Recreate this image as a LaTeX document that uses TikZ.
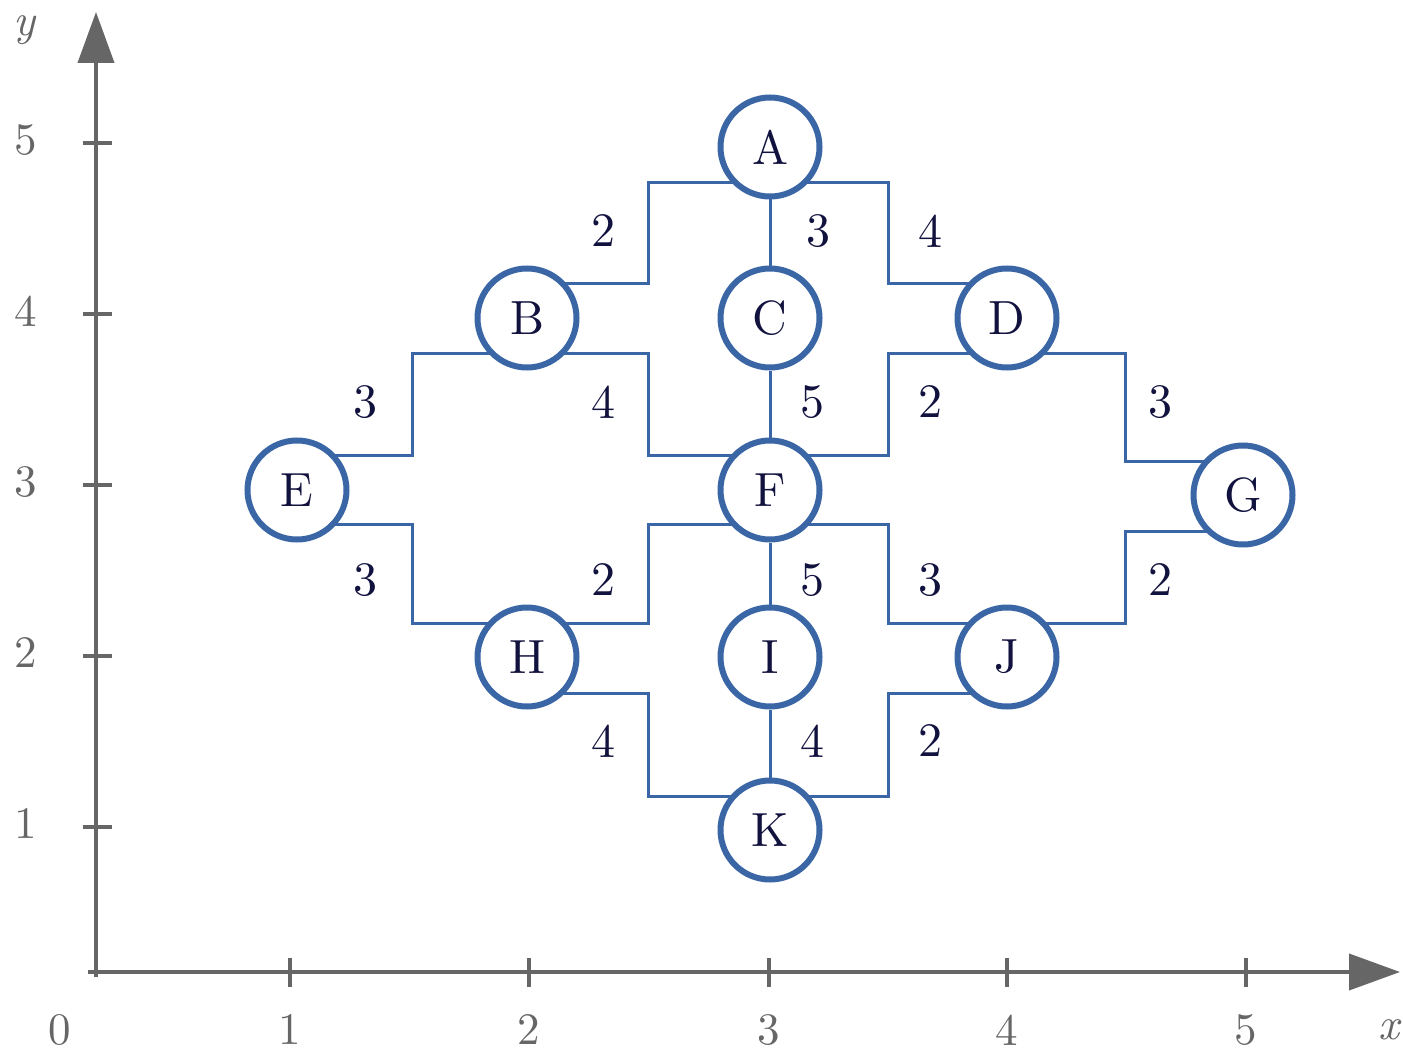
\documentclass[tikz,border=0pt]{standalone}
\usepackage{fontspec}
\setmainfont{lmroman10-regular.otf}[ItalicFont=lmroman10-italic.otf]
\usetikzlibrary{arrows.meta,calc,backgrounds}
\definecolor{edgeblue}{HTML}{3A66A6}
\definecolor{txtnavy}{HTML}{12123F}
\definecolor{axisgray}{HTML}{666666}
\tikzset{
  vert/.style={circle, draw=edgeblue, line width=6pt, fill=white, minimum size=99pt,
    inner sep=0pt, text=txtnavy, font=\fontsize{48}{52}\selectfont},
  wlab/.style={text=txtnavy, inner sep=0pt, font=\fontsize{48}{52}\selectfont},
  edgeline/.style={draw=edgeblue, line width=3pt},
  axisline/.style={draw=axisgray, line width=4pt},
  tickline/.style={draw=axisgray, line width=4pt},
  alab/.style={text=axisgray, inner sep=0pt, font=\fontsize{45}{50}\selectfont},
  axarrow/.style={-{Triangle[length=51pt,width=36pt]}}
}
\begin{document}
\begin{tikzpicture}[x=1pt,y=-1pt]
\useasboundingbox (0,0) rectangle (1403,1051);
% axes
\draw[axisline,axarrow] (88,972) -- (1400,972);
\draw[axisline,axarrow] (96,977) -- (96,12);
\foreach \xx in {290,529,769,1007,1246} \draw[tickline] (\xx,958) -- (\xx,987);
\foreach \yy in {143,314,485,656,827} \draw[tickline] (83,\yy) -- (112,\yy);
% axis labels
\node[alab] (y5) at (26,140) {5};
\node[alab] (y4) at (26,311) {4};
\node[alab] (y3) at (26,482) {3};
\node[alab] (y2) at (26,653) {2};
\node[alab] (y1) at (26,824) {1};
\node[alab] (x0) at (60,1030) {0};
\node[alab] (x1) at (290,1030) {1};
\node[alab] (x2) at (529,1030) {2};
\node[alab] (x3) at (769,1030) {3};
\node[alab] (x4) at (1007,1030) {4};
\node[alab] (x5) at (1246,1030) {5};
\node[alab] (xl) at (1390,1030) {\textit{x}};
\node[alab] (yl) at (25,30) {\textit{y}};
% vertices
\node[vert] (A) at (770,147) {A};
\node[vert] (B) at (527,318) {B};
\node[vert] (C) at (770,318) {C};
\node[vert] (D) at (1007,318) {D};
\node[vert] (E) at (297,490) {E};
\node[vert] (F) at (770,490) {F};
\node[vert] (G) at (1243,495) {G};
\node[vert] (H) at (527,657) {H};
\node[vert] (I) at (770,657) {I};
\node[vert] (J) at (1007,657) {J};
\node[vert] (K) at (770,830) {K};
% edges
\begin{scope}[on background layer]
\draw[edgeline] ($(A)+(0,36)$) -| ($(A)!.5!(B)$) |- ($(B)+(0,-35)$);
\draw[edgeline] ($(A)+(0,36)$) -| ($(A)!.5!(D)$) |- ($(D)+(0,-35)$);
\draw[edgeline] (A) -- (C);
\draw[edgeline] ($(B)+(0,35)$) -| ($(B)!.5!(E)$) |- ($(E)+(0,-35)$);
\draw[edgeline] ($(B)+(0,35)$) -| ($(B)!.5!(F)$) |- ($(F)+(0,-35)$);
\draw[edgeline] (C) -- (F);
\draw[edgeline] ($(D)+(0,35)$) -| ($(D)!.5!(F)$) |- ($(F)+(0,-35)$);
\draw[edgeline] ($(D)+(0,35)$) -| ($(D)!.5!(G)$) |- ($(G)+(0,-34)$);
\draw[edgeline] ($(E)+(0,34)$) -| ($(E)!.5!(H)$) |- ($(H)+(0,-34)$);
\draw[edgeline] ($(F)+(0,34)$) -| ($(F)!.5!(H)$) |- ($(H)+(0,-34)$);
\draw[edgeline] (F) -- (I);
\draw[edgeline] ($(F)+(0,34)$) -| ($(F)!.5!(J)$) |- ($(J)+(0,-34)$);
\draw[edgeline] ($(G)+(0,36)$) -| ($(G)!.5!(J)$) |- ($(J)+(0,-34)$);
\draw[edgeline] ($(H)+(0,36)$) -| ($(H)!.5!(K)$) |- ($(K)+(0,-34)$);
\draw[edgeline] (I) -- (K);
\draw[edgeline] ($(J)+(0,36)$) -| ($(J)!.5!(K)$) |- ($(K)+(0,-34)$);
\end{scope}
% weights
\node[wlab] (wAB) at (603,231) {2};
\node[wlab] (wAC) at (818,231) {3};
\node[wlab] (wAD) at (930,231) {4};
\node[wlab] (wBE) at (365,402) {3};
\node[wlab] (wBF) at (603,402) {4};
\node[wlab] (wCF) at (812,402) {5};
\node[wlab] (wDF) at (930,402) {2};
\node[wlab] (wDG) at (1160,402) {3};
\node[wlab] (wEH) at (365,580) {3};
\node[wlab] (wFH) at (603,580) {2};
\node[wlab] (wFI) at (812,580) {5};
\node[wlab] (wFJ) at (930,580) {3};
\node[wlab] (wGJ) at (1160,580) {2};
\node[wlab] (wHK) at (603,741) {4};
\node[wlab] (wIK) at (812,741) {4};
\node[wlab] (wJK) at (930,741) {2};
\end{tikzpicture}
\end{document}
